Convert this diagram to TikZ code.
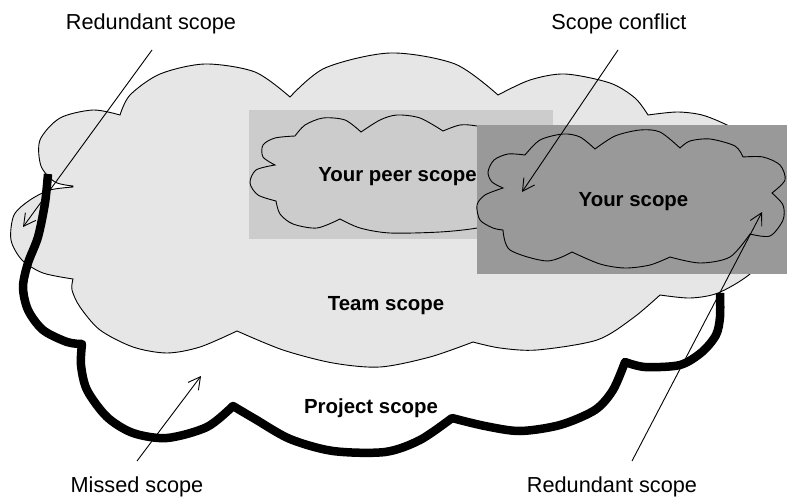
\documentclass[tikz,border=0pt]{standalone}
\usepackage{fontspec}
\setmainfont{Liberation Sans}
\usetikzlibrary{arrows.meta}
\definecolor{teamgrey}{HTML}{E6E6E6}
\definecolor{peergrey}{HTML}{CCCCCC}
\definecolor{yourgrey}{HTML}{999999}
\begin{document}
\begin{tikzpicture}[x=1pt,y=-1pt,
  cloudline/.style={draw=black,line width=0.9pt,line join=miter},
  projline/.style={draw=black,line width=8.5pt,line join=round,line cap=butt},
  lbl/.style={anchor=base,inner sep=0pt,font=\fontsize{21.7}{26}\selectfont},
  scopelbl/.style={anchor=base,inner sep=0pt,font=\fontsize{20.4}{24}\selectfont\bfseries},
  arr/.style={draw=black,line width=0.9pt,-{Straight Barb[length=12pt,width=13pt,line width=0.9pt]}}]
\useasboundingbox (0,0) rectangle (787,500);
\fill[white] (0,0) rectangle (787,500);
% Team scope cloud
\path[cloudline,fill=teamgrey] (73,186)
 -- plot[smooth] coordinates {(73,186) (55,182) (41,166) (40,140) (60,118) (93,110) (120,115)}
 -- plot[smooth] coordinates {(120,115) (130,95) (160,74) (205,64) (255,72) (290,97)}
 -- plot[smooth] coordinates {(290,97) (325,68) (390,53) (455,64) (498,95)}
 -- plot[smooth] coordinates {(498,95) (530,80) (565,74) (610,83) (635,98) (648,115)}
 -- plot[smooth] coordinates {(648,115) (677,112) (702,115) (727,125) (758,142) (775,170)}
 -- plot[smooth] coordinates {(775,170) (784,205) (775,245) (750,274) (718,293) (690,298) (660,295)}
 -- plot[smooth] coordinates {(660,295) (633,318) (597,340) (537,350) (500,348) (473,342)}
 -- plot[smooth] coordinates {(473,342) (430,357) (380,367) (333,363) (283,350) (237,331)}
 -- plot[smooth] coordinates {(237,331) (200,347) (167,353) (133,347) (100,330) (80,307) (72,290) (73,279)}
 -- plot[smooth] coordinates {(73,279) (43,273) (22,260) (11,240) (14,215) (30,200) (50,190) (73,187)}
 -- cycle;
% Project scope outline
\path[projline] (48,174)
 -- plot[smooth] coordinates {(48,174) (45,203) (38,237) (28,263) (23,287) (28,310) (43,330) (67,342) (82,344)}
 -- plot[smooth] coordinates {(82,344) (81,365) (87,390) (107,417) (133,433) (167,438) (207,427) (233,406)}
 -- plot[smooth] coordinates {(233,406) (255,419) (290,439) (333,451) (385,452) (420,440) (452,418)}
 -- plot[smooth] coordinates {(452,418) (485,426) (520,431) (560,425) (595,410) (613,390) (625,362)}
 -- plot[smooth] coordinates {(625,362) (645,367) (680,365) (702,352) (716,335) (720,317) (720,293)};
% Peer scope
\fill[peergrey] (249,110) rectangle (553,239);
\path[cloudline] (295,136)
 -- plot[smooth] coordinates {(295,136) (305,125) (323,118) (345,120) (361,132)}
 -- plot[smooth] coordinates {(361,132) (380,120) (397,115) (420,118) (443,131)}
 -- plot[smooth] coordinates {(443,131) (460,125) (477,126) (510,133) (535,150)}
 -- plot[smooth] coordinates {(535,150) (550,172) (540,195) (515,205)}
 -- plot[smooth] coordinates {(515,205) (505,220) (477,228) (440,232) (390,233) (360,228) (340,219)}
 -- plot[smooth] coordinates {(340,219) (317,228) (293,224) (280,214) (276,201)}
 -- plot[smooth] coordinates {(276,201) (258,195) (250,183) (256,170) (275,165)}
 -- plot[smooth] coordinates {(275,165) (263,157) (263,145) (275,138) (295,136)}
 -- cycle;
\node[scopelbl] (peer) at (397.5,182) {Your peer scope};
% Your scope
\fill[yourgrey] (477,125) rectangle (787,274);
\path[cloudline] (503,188)
 -- plot[smooth] coordinates {(503,188) (485,195) (477,205) (480,220) (493,228) (503,230)}
 -- plot[smooth] coordinates {(503,230) (510,250) (547,261) (572,252)}
 -- plot[smooth] coordinates {(572,252) (600,264) (625,268) (650,265) (670,257)}
 -- plot[smooth] coordinates {(670,257) (700,263) (730,257) (750,234)}
 -- plot[smooth] coordinates {(750,234) (770,236) (783,220) (783,205) (772,193)}
 -- plot[smooth] coordinates {(772,193) (785,180) (780,165) (763,157) (743,157)}
 -- plot[smooth] coordinates {(743,157) (735,146) (710,139) (690,141) (680,148)}
 -- plot[smooth] coordinates {(680,148) (660,132) (640,130) (615,136) (595,149)}
 -- plot[smooth] coordinates {(595,149) (580,137) (563,134) (540,140) (525,155)}
 -- plot[smooth] coordinates {(525,155) (508,154) (494,160) (488,172) (492,182) (503,188)}
 -- cycle;
\node[scopelbl] (your) at (633.5,206) {Your scope};
\node[scopelbl] (team) at (386,310) {Team scope};
\node[scopelbl] (project) at (371,413) {Project scope};
% Labels
\node[lbl] (redtop) at (151,30) {Redundant scope};
\node[lbl] (conflict) at (619,30) {Scope conflict};
\node[lbl] (missed) at (137,492) {Missed scope};
\node[lbl] (redbot) at (612,492) {Redundant scope};
% Arrow ends
\coordinate (s1) at (152,50);  \coordinate (t1) at (23,227);
\coordinate (s2) at (618,50);  \coordinate (t2) at (522,192);
\coordinate (s3) at (137,461); \coordinate (t3) at (201,376);
\coordinate (s4) at (632,461); \coordinate (t4) at (762,212);
\draw[arr] (s1) -- (t1);
\draw[arr] (s2) -- (t2);
\draw[arr] (s3) -- (t3);
\draw[arr] (s4) -- (t4);
\end{tikzpicture}
\end{document}
